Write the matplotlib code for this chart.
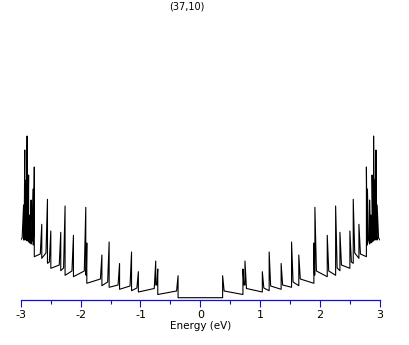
"""
plot.py -- DOS of the (37,10) nanotube, redrawn from the reference picture.
Writes out.png (409x345).
"""
import matplotlib
matplotlib.use("Agg")
import matplotlib.pyplot as plt

# van Hove spikes on the positive-energy side
# (the picture is electron-hole symmetric, the negative side is its mirror)
vhs_energy = [0.372, 0.711, 0.745, 1.035, 1.149, 1.349, 1.523, 1.644,
              1.896, 1.913, 2.119, 2.259, 2.331, 2.497, 2.553, 2.648,
              2.773, 2.790, 2.826, 2.848, 2.868, 2.893, 2.910, 2.932, 2.952]
vhs_peak = [0.248, 0.315, 0.395, 0.288, 0.485, 0.370, 0.585, 0.455,
            0.575, 0.932, 0.652, 0.945, 0.682, 0.695, 1.012, 0.762,
            1.335, 1.115, 1.005, 0.855, 1.255, 1.645, 1.205, 1.505, 0.955]
# level just before each spike
vhs_floor = [0.028, 0.060, 0.155, 0.085, 0.098, 0.112, 0.132, 0.148,
             0.172, 0.255, 0.238, 0.252, 0.298, 0.322, 0.372, 0.422,
             0.438, 0.555, 0.565, 0.575, 0.585, 0.595, 0.605, 0.605, 0.605]
# level just after each spike
vhs_shoulder = [0.095, 0.155, 0.120, 0.125, 0.145, 0.155, 0.185, 0.215,
                0.255, 0.295, 0.295, 0.325, 0.355, 0.385, 0.475, 0.465,
                0.705, 0.605, 0.625, 0.625, 0.645, 0.705, 0.645, 0.645, 0.625]
edge_energy = 3.0
edge_dos = 0.605

xticks_major = [-3, -2, -1, 0, 1, 2, 3]
xticks_minor = [-2.5, -1.5, -0.5, 0.5, 1.5, 2.5]
title = "(37,10)"

plt.rcParams["axes.unicode_minus"] = False

# build the polyline of the positive half
xs, ys = [0.0], [vhs_floor[0]]
n = len(vhs_energy)
for i in range(n):
    nxt = vhs_energy[i + 1] if i + 1 < n else edge_energy
    w = min(0.025, 0.5 * (nxt - vhs_energy[i]))
    xs += [vhs_energy[i], vhs_energy[i], vhs_energy[i] + w]
    ys += [vhs_floor[i], vhs_peak[i], vhs_shoulder[i]]
xs.append(edge_energy)
ys.append(edge_dos)

# mirror for the negative half
full_x = [-x for x in xs[::-1]] + xs[1:]
full_y = ys[::-1] + ys[1:]

fig = plt.figure(figsize=(4.09, 3.45), dpi=100)
ax = fig.add_axes([0.0506, 0.129, 0.8785, 0.784])

ax.plot(full_x, full_y, color="black", linewidth=0.8)

axis_blue = "#1010d0"
for side in ("top", "left", "right"):
    ax.spines[side].set_visible(False)
ax.spines["bottom"].set_color(axis_blue)
ax.spines["bottom"].set_linewidth(0.9)

ax.set_xlim(-3, 3)
ax.set_ylim(0, 2.705)
ax.set_yticks([])
ax.set_xticks(xticks_major)
ax.set_xticks(xticks_minor, minor=True)
ax.set_xticklabels([str(t) for t in xticks_major])
ax.tick_params(axis="x", which="major", direction="out", length=5.3,
               width=0.8, color=axis_blue, labelsize=8, pad=1.5)
ax.tick_params(axis="x", which="minor", direction="out", length=3.2,
               width=0.8, color=axis_blue)
ax.set_xlabel("Energy (eV)", fontsize=7.5, labelpad=1)

fig.text(0.457, 0.982, title, ha="center", va="center", fontsize=7)

fig.savefig("out.png", dpi=100)
plt.close(fig)
